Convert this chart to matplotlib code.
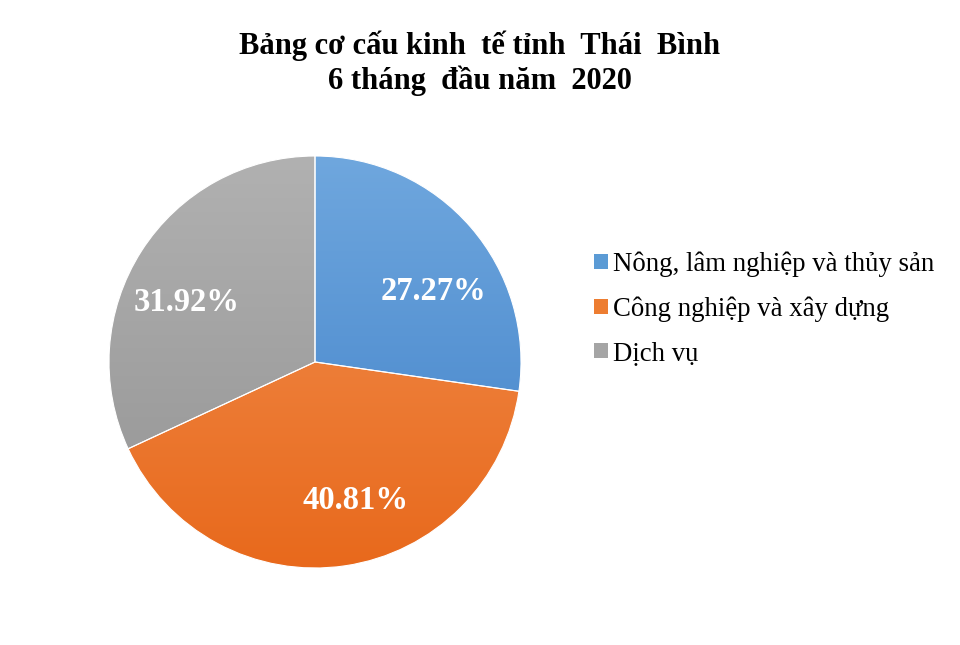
import numpy as np
import matplotlib
matplotlib.use("Agg")
import matplotlib.pyplot as plt
from matplotlib.colors import LinearSegmentedColormap
from matplotlib.patches import Patch

categories = ["Nông, lâm nghiệp và thủy sản", "Công nghiệp và xây dựng", "Dịch vụ"]
values = [27.27, 40.81, 31.92]
top_colors = ["#6fa7de", "#f29254", "#b1b1b1"]
bottom_colors = ["#3f80c8", "#e8691c", "#939393"]
legend_colors = ["#5b9bd5", "#ed7d31", "#a5a5a5"]
title_lines = ["Bảng cơ cấu kinh  tế tỉnh  Thái  Bình", "6 tháng  đầu năm  2020"]

# label placement tweaks (style): angular shift in degrees and radial distance
label_shift = [-10.0, 8.0, 7.6]
label_dist = [0.67, 0.70, 0.69]

plt.rcParams['font.family'] = ['Liberation Serif', 'DejaVu Serif']

fig = plt.figure(figsize=(9.6, 6.45), dpi=100)
cx, cy, r = 315, 362, 206
ax = fig.add_axes([(cx - r) / 960, (645 - cy - r) / 645, 2 * r / 960, 2 * r / 645])

wedges, texts, autotexts = ax.pie(
    values, startangle=90, counterclock=False, radius=1.0,
    colors=legend_colors, autopct=lambda p: f"{p:.2f}%", pctdistance=0.68,
    wedgeprops=dict(linewidth=0.8, edgecolor="white"),
    textprops=dict(color="white", fontsize=23.5, fontweight="bold"))
ax.set_xlim(-1, 1)
ax.set_ylim(-1, 1)
ax.set_aspect("equal")
ax.axis("off")

grad = np.linspace(1, 0, 256).reshape(-1, 1)
for w, tc, bc in zip(wedges, top_colors, bottom_colors):
    cmap = LinearSegmentedColormap.from_list("g", [bc, tc])
    im = ax.imshow(grad, cmap=cmap, extent=[-1, 1, -1, 1], origin="upper",
                   aspect="auto", zorder=2, vmin=0, vmax=1)
    im.set_clip_path(w)
for w in wedges:
    w.set_facecolor("none")
    w.set_zorder(5)

for w, t, s, d in zip(wedges, autotexts, label_shift, label_dist):
    ang = np.deg2rad((w.theta1 + w.theta2) / 2 + s)
    t.set_position((d * np.cos(ang), d * np.sin(ang)))
    t.set_zorder(10)

fig.text(0.5, 1 - 46 / 645, title_lines[0], ha="center", va="center",
         fontsize=22, fontweight="bold")
fig.text(0.5, 1 - 81 / 645, title_lines[1], ha="center", va="center",
         fontsize=22, fontweight="bold")

handles = [Patch(facecolor=c, edgecolor="none") for c in legend_colors]
fig.legend(handles, categories, loc="center left", bbox_to_anchor=(0.619, 1 - 309 / 645),
           frameon=False, fontsize=19.3, handlelength=0.5, handleheight=0.5,
           handletextpad=0.2, labelspacing=0.72, borderpad=0, borderaxespad=0)

fig.savefig("out.png", dpi=100, facecolor="white")
